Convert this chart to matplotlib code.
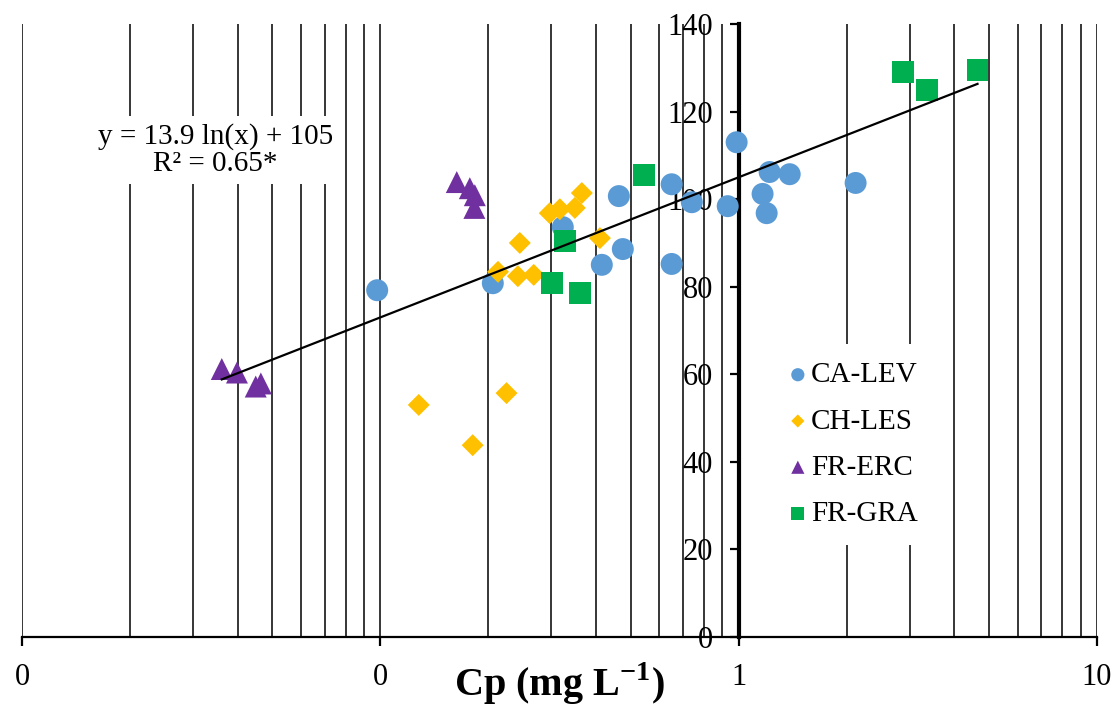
import numpy as np
import matplotlib
matplotlib.use("Agg")
import matplotlib.pyplot as plt
from matplotlib.ticker import LogLocator, FixedLocator, FixedFormatter

plt.rcParams['font.family'] = ['Liberation Serif', 'DejaVu Serif']
plt.rcParams['mathtext.fontset'] = 'custom'
plt.rcParams['mathtext.rm'] = 'Liberation Serif'
plt.rcParams['mathtext.bf'] = 'Liberation Serif:bold'

# data (Cp in mg/L, y in %)
ca_lev_x = [0.098, 0.206, 0.323, 0.415, 0.475, 0.463, 0.650, 0.650, 0.74,
            0.932, 0.987, 1.22, 1.388, 1.166, 1.197, 2.12]
ca_lev_y = [79.2, 80.8, 93.6, 85.0, 88.6, 100.7, 85.2, 103.4, 99.3,
            98.4, 113.0, 106.2, 105.7, 101.2, 96.8, 103.7]

ch_les_x = [0.128, 0.181, 0.225, 0.213, 0.242, 0.268, 0.245, 0.297, 0.317,
            0.349, 0.365, 0.410]
ch_les_y = [53.0, 43.8, 55.7, 83.4, 82.4, 82.7, 90.0, 96.8, 97.7,
            98.0, 101.4, 91.1]

fr_erc_x = [0.0361, 0.0398, 0.0449, 0.0464, 0.1634, 0.1777, 0.1835, 0.183]
fr_erc_y = [61.2, 60.4, 57.2, 57.9, 103.9, 102.5, 100.9, 98.0]

fr_gra_x = [0.543, 0.327, 0.301, 0.360, 2.87, 3.345, 4.64]
fr_gra_y = [105.5, 90.4, 80.8, 78.6, 129.0, 124.9, 129.5]

# trendline y = a ln(x) + b
fit_a = 13.9
fit_b = 105
fit_text = "y = 13.9 ln(x) + 105\nR\u00b2 = 0.65*"

x_ticks = [0.01, 0.1, 1, 10]
x_tick_labels = ['0', '0', '1', '10']
y_ticks = [0, 20, 40, 60, 80, 100, 120, 140]

fig = plt.figure(figsize=(11.17, 7.09), dpi=100)
ax = fig.add_axes([0.0197, 0.1016, 0.9624, 0.8645])

ax.scatter(ca_lev_x, ca_lev_y, s=250, marker='o', color='#5B9BD5',
           edgecolors='none', label='CA-LEV', zorder=3)
ax.scatter(ch_les_x, ch_les_y, s=125, marker='D', color='#FFC000',
           edgecolors='none', label='CH-LES', zorder=3)
ax.scatter(fr_erc_x, fr_erc_y, s=250, marker='^', color='#7030A0',
           edgecolors='none', label='FR-ERC', zorder=3)
ax.scatter(fr_gra_x, fr_gra_y, s=250, marker='s', color='#00B050',
           edgecolors='none', label='FR-GRA', zorder=3)

all_x = ca_lev_x + ch_les_x + fr_erc_x + fr_gra_x
xf = np.logspace(np.log10(min(all_x)), np.log10(max(all_x)), 100)
ax.plot(xf, fit_a * np.log(xf) + fit_b, color='black', linewidth=1.6, zorder=4)

ax.set_xscale('log')
ax.set_xlim(0.01, 10)
ax.set_ylim(0, 140)

ax.xaxis.set_major_locator(FixedLocator(x_ticks))
ax.xaxis.set_major_formatter(FixedFormatter(x_tick_labels))
ax.xaxis.set_minor_locator(LogLocator(base=10, subs=np.arange(2, 10)))
ax.set_yticks(y_ticks)

ax.grid(True, which='both', axis='x', color='black', linewidth=1.1)
ax.set_axisbelow(True)

for s in ['top', 'right']:
    ax.spines[s].set_visible(False)
ax.spines['left'].set_position(('data', 1))
ax.spines['left'].set_linewidth(3)
ax.spines['left'].set_zorder(2.5)
ax.spines['bottom'].set_linewidth(1.6)

ax.tick_params(axis='y', direction='out', length=6.5, width=1.6,
               labelsize=22, pad=12)
ax.tick_params(axis='x', which='major', direction='out', length=6.5,
               width=1.6, labelsize=22, pad=12)
ax.tick_params(axis='x', which='minor', length=0)

ax.set_xlabel(r'Cp (mg L$^{\mathbf{-1}}$)', fontsize=29, fontweight='bold',
              va='center')
ax.xaxis.set_label_coords(0.5, -0.077)

ax.text(0.18, 0.794, fit_text, transform=ax.transAxes, fontsize=21,
        ha='center', va='center', linespacing=1.05,
        bbox=dict(facecolor='white', edgecolor='none', pad=5), zorder=3)

ax.legend(loc='upper left', bbox_to_anchor=(0.681, 0.501), fontsize=21,
          frameon=True, facecolor='white', edgecolor='none', framealpha=1,
          markerscale=0.6, handletextpad=0.05, labelspacing=0.68,
          borderpad=0.6, handlelength=0.8, fancybox=False)

fig.savefig('out.png', dpi=100)
